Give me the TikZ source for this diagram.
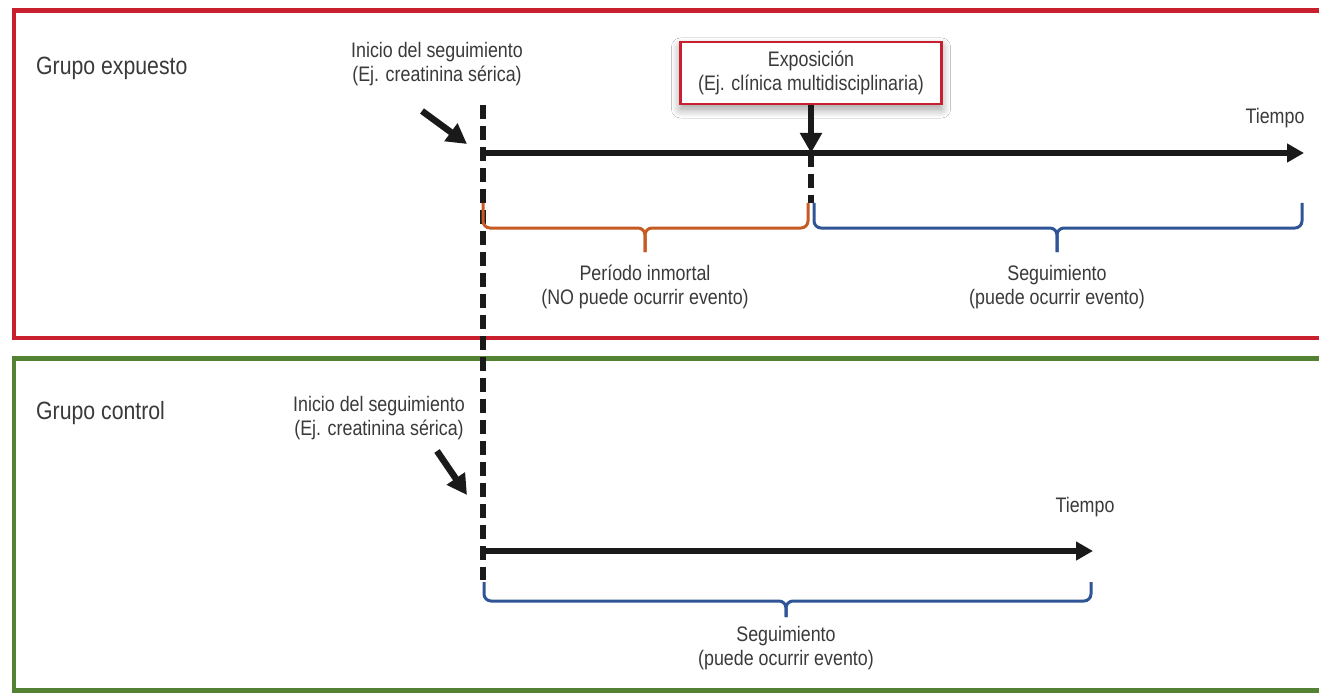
\documentclass[tikz,border=0pt]{standalone}
\usepackage{fontspec}
\setmainfont[FakeStretch=0.85]{Liberation Sans}
\usetikzlibrary{arrows.meta,shadows.blur}
\definecolor{fred}{HTML}{C8202F}
\definecolor{fgreen}{HTML}{548235}
\definecolor{forange}{HTML}{C55A22}
\definecolor{fblue}{HTML}{2F5597}
\definecolor{tgray}{HTML}{3A3A3A}
\definecolor{lblack}{HTML}{1A1A1A}
\tikzset{
  lbl/.style={text=tgray, font=\fontsize{21}{24}\selectfont, align=center, inner sep=0pt},
  grouplbl/.style={text=tgray, font=\fontsize{25}{30}\selectfont, anchor=west, inner sep=0pt},
  timeline/.style={draw=lblack, line width=6pt, -{Triangle[length=17pt,width=18pt]}},
  pointer/.style={draw=lblack, line width=6.5pt, -{Triangle[length=20pt,width=21pt]}},
  startdash/.style={draw=lblack, line width=5.5pt, dash pattern=on 14pt off 7pt},
  bracepath/.style={line width=3pt, rounded corners=7pt},
  frame/.style={line width=4.5pt},
  expobox/.style={draw=fred, line width=2.5pt, fill=white, minimum width=261pt, minimum height=62pt,
    blur shadow={shadow xshift=0pt, shadow yshift=-5pt, shadow blur radius=9pt, shadow blur steps=12, shadow opacity=40}}
}
\begin{document}
\begin{tikzpicture}[x=1pt,y=-1pt]
\clip (0,0) rectangle (1319,695);
\useasboundingbox (0,0) rectangle (1319,695);
\fill[white] (0,0) rectangle (1319,695);

% frames
\draw[frame, fred] (1340,10.5) -| (14,338) -- (1340,338);
\draw[frame, fgreen] (1340,358.5) -| (14,690.5) -- (1340,690.5);

% group labels
\node[grouplbl] (ge) at (36,68) {Grupo expuesto};
\node[grouplbl] (gc) at (36,413) {Grupo control};

% start dashed line
\coordinate (ds) at (483,105);
\coordinate (de) at (483,580);
\draw[startdash] (ds) -- (de);

% exposed group
\node[lbl] (ini1) at (437,64) {Inicio del seguimiento\\(Ej. creatinina sérica)};
\coordinate (p1s) at (422,111);
\coordinate (p1e) at (467,144);
\draw[pointer] (p1s) -- (p1e);

\coordinate (t1s) at (483,153);
\coordinate (t1e) at (1304,153);
\draw[timeline] (t1s) -- (t1e);
\node[lbl] (tiempo1) at (1275,118) {Tiempo};

\node[lbl, expobox] (expo) at (811,73) {Exposición\\(Ej. clínica multidisciplinaria)};
\coordinate (ex) at (811,153);
\draw[pointer] (expo.south) -- (ex);
\coordinate (exd) at (811,203);
\draw[startdash] (ex) -- (exd);

% braces exposed
\draw[bracepath, forange] (483,203) |- (645,228) -- (645,252);
\draw[bracepath, forange] (808,203) |- (645,228) -- (645,252);
\draw[bracepath, fblue] (814,203) |- (1057,228) -- (1057,252);
\draw[bracepath, fblue] (1302,203) |- (1057,228) -- (1057,252);
\node[lbl] (inm) at (645,287) {Período inmortal\\(NO puede ocurrir evento)};
\node[lbl] (seg1) at (1057,287) {Seguimiento\\(puede ocurrir evento)};

% control group
\node[lbl] (ini2) at (379,418) {Inicio del seguimiento\\(Ej. creatinina sérica)};
\coordinate (p2s) at (437,451);
\coordinate (p2e) at (467,495);
\draw[pointer] (p2s) -- (p2e);

\coordinate (t2s) at (483,551);
\coordinate (t2e) at (1093,551);
\draw[timeline] (t2s) -- (t2e);
\node[lbl] (tiempo2) at (1085,507) {Tiempo};

\draw[bracepath, fblue] (484,582) |- (786,601) -- (786,617);
\draw[bracepath, fblue] (1091,582) |- (786,601) -- (786,617);
\node[lbl] (seg2) at (786,648) {Seguimiento\\(puede ocurrir evento)};
\end{tikzpicture}
\end{document}
